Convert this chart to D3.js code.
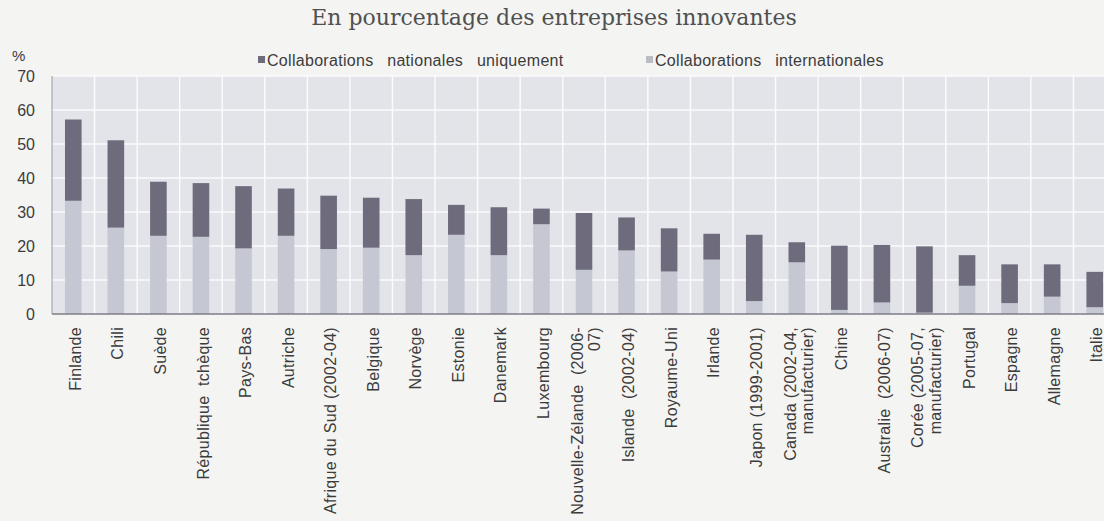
<!DOCTYPE html>
<html>
<head>
<meta charset="utf-8">
<script src="https://cdn.jsdelivr.net/npm/d3@7"></script>
<style>
  body { margin: 0; background: #f4f4f3; }
  svg { display: block; }
  text { font-family: "Liberation Sans", Arial, sans-serif; fill: #3c3c3c; }
</style>
</head>
<body>
<div class="chartContainer"></div>
<script>
var countries = ["Finlande", "Chili", "Suède", "République  tchèque", "Pays-Bas", "Autriche",
  "Afrique du Sud (2002-04)", "Belgique", "Norvège", "Estonie", "Danemark", "Luxembourg",
  "Nouvelle-Zélande  (2006-|07)", "Islande  (2002-04)", "Royaume-Uni", "Irlande",
  "Japon (1999-2001)", "Canada (2002-04,|manufacturier)", "Chine", "Australie  (2006-07)",
  "Corée (2005-07,|manufacturier)", "Portugal", "Espagne", "Allemagne", "Italie"];

// collaborations internationales (bas de la barre)
var international = [33.3, 25.4, 23.0, 22.7, 19.3, 23.0, 19.1, 19.5, 17.3, 23.3, 17.3, 26.4,
  13.0, 18.7, 12.5, 16.0, 3.8, 15.2, 1.2, 3.4, 0.4, 8.3, 3.2, 5.1, 2.0];

// collaborations nationales uniquement (haut de la barre)
var national = [23.9, 25.7, 15.9, 15.8, 18.3, 13.9, 15.7, 14.7, 16.5, 8.8, 14.1, 4.6,
  16.7, 9.7, 12.7, 7.6, 19.5, 5.9, 18.9, 16.9, 19.5, 9.0, 11.4, 9.5, 10.4];

var yTicks = [0, 10, 20, 30, 40, 50, 60, 70];
var seriesNames = ["Collaborations nationales uniquement", "Collaborations internationales"];

var width = 1104;
var height = 521;
var margin = {left: 52, top: 76, bottom: 314};

var darkColor = "#6d6b7c";
var lightColor = "#c5c8d2";

var svg = d3.select(".chartContainer")
  .append("svg")
    .attr("width", width)
    .attr("height", height);

var x = d3.scaleBand()
    .domain(countries)
    .range([margin.left, 1116])
    .paddingInner(0.61)
    .paddingOuter(0.305);

var y = d3.scaleLinear()
    .domain([0, 70])
    .range([margin.bottom, margin.top]);

// ======= title & legend ========

svg.append("text")
    .attr("x", 554)
    .attr("y", 25)
    .attr("text-anchor", "middle")
    .style("font-family", "'DejaVu Serif', 'Liberation Serif', serif")
    .style("font-size", "22px")
    .style("fill", "#505050")
    .text("En pourcentage des entreprises innovantes");

var legend = svg.append("g").attr("class", "legend");
var legendX = [258, 646];
var legendColors = [darkColor, "#b9bcc4"];

legend.selectAll(".legItem")
    .data(seriesNames)
  .enter().append("g")
    .attr("class", "legItem")
    .attr("transform", function(d, i) { return "translate(" + legendX[i] + ",61)"; })
    .each(function(d, i) {
        var g = d3.select(this);
        g.append("rect")
            .attr("x", 0).attr("y", -5)
            .attr("width", 7).attr("height", 7)
            .style("fill", legendColors[i]);
        g.append("text")
            .attr("x", 9)
            .attr("y", 5)
            .style("font-size", "16px")
            .style("letter-spacing", "0.3px")
            .style("word-spacing", "9px")
            .text(d);
    });

// ======= plot area ========

var plot = svg.append("g").attr("class", "plot");

plot.append("rect")
    .attr("x", margin.left)
    .attr("y", margin.top)
    .attr("width", 1116 - margin.left)
    .attr("height", margin.bottom - margin.top)
    .style("fill", "#e2e4e9");

// horizontal gridlines
plot.selectAll(".hgrid")
    .data(yTicks.slice(1))
  .enter().append("line")
    .attr("class", "hgrid")
    .attr("x1", margin.left).attr("x2", 1116)
    .attr("y1", function(d) { return y(d); })
    .attr("y2", function(d) { return y(d); })
    .style("stroke", "#fbfbfc")
    .style("stroke-width", 1.5);

// vertical gridlines between categories
plot.selectAll(".vgrid")
    .data(countries.slice(1))
  .enter().append("line")
    .attr("class", "vgrid")
    .attr("x1", function(d) { return x(d) - x.step() * x.paddingInner() / 2; })
    .attr("x2", function(d) { return x(d) - x.step() * x.paddingInner() / 2; })
    .attr("y1", margin.top).attr("y2", margin.bottom)
    .style("stroke", "#fbfbfc")
    .style("stroke-width", 1.5);

// left border
plot.append("line")
    .attr("x1", margin.left).attr("x2", margin.left)
    .attr("y1", margin.top).attr("y2", margin.bottom)
    .style("stroke", "#9a9ca4")
    .style("stroke-width", 1);

// ======= bars ========

var bars = plot.selectAll(".gBar")
    .data(countries)
  .enter().append("g")
    .attr("class", "gBar");

bars.append("rect")
    .attr("class", "barInt")
    .attr("x", function(d) { return x(d); })
    .attr("width", x.bandwidth())
    .attr("y", function(d, i) { return y(international[i]); })
    .attr("height", function(d, i) { return y(0) - y(international[i]); })
    .style("fill", lightColor);

bars.append("rect")
    .attr("class", "barNat")
    .attr("x", function(d) { return x(d); })
    .attr("width", x.bandwidth())
    .attr("y", function(d, i) { return y(international[i] + national[i]); })
    .attr("height", function(d, i) { return y(international[i]) - y(international[i] + national[i]); })
    .style("fill", darkColor);

// x axis line
plot.append("line")
    .attr("x1", margin.left).attr("x2", 1116)
    .attr("y1", y(0)).attr("y2", y(0))
    .style("stroke", "#7c7e86")
    .style("stroke-width", 1.5);

// ======= axes labels ========

var yAxis = svg.append("g").attr("class", "yAxis");

yAxis.selectAll(".yLab")
    .data(yTicks)
  .enter().append("text")
    .attr("class", "yLab")
    .attr("x", 35)
    .attr("y", function(d) { return y(d); })
    .attr("dy", "0.36em")
    .attr("text-anchor", "end")
    .style("font-size", "16px")
    .text(function(d) { return d; });

yAxis.append("text")
    .attr("x", 12)
    .attr("y", 61)
    .style("font-size", "15px")
    .text("%");

var xLabels = svg.append("g").attr("class", "xAxis")
  .selectAll(".xLab")
    .data(countries)
  .enter().append("text")
    .attr("class", "xLab")
    .attr("text-anchor", "end")
    .attr("transform", function(d) {
        return "translate(" + (x(d) + x.bandwidth() / 2 + 2) + ",327) rotate(-90)";
    })
    .style("font-size", "16px")
    .style("letter-spacing", "0.3px")
    .style("white-space", "pre");

xLabels.each(function(d) {
    var lines = d.split("|");
    var t = d3.select(this);
    lines.forEach(function(l, k) {
        t.append("tspan")
            .attr("x", 0)
            .attr("y", 0)
            .attr("dy", (0.35 + (k - (lines.length - 1) / 2) * 1.1) + "em")
            .text(l);
    });
});
</script>
</body>
</html>
